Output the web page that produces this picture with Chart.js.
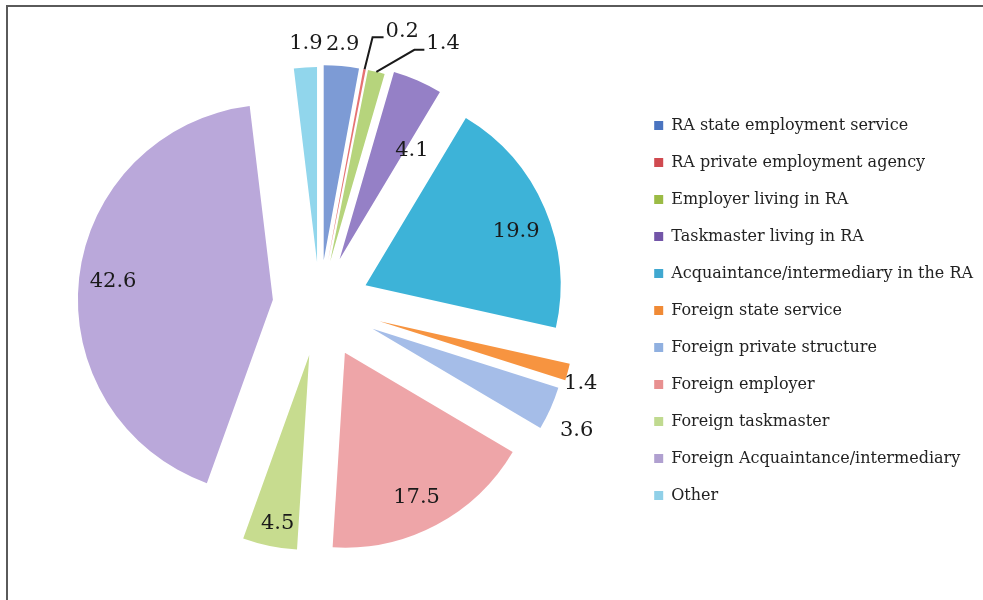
<!DOCTYPE html>
<html>
<head>
<meta charset="utf-8">
<script src="https://cdn.jsdelivr.net/npm/chart.js@4.4.0/dist/chart.umd.min.js"></script>
<style>
  html, body { margin: 0; padding: 0; background: #fff; }
  #wrap { position: relative; width: 983px; height: 600px; overflow: hidden; }
  #frame { position: absolute; left: 6px; top: 5px; right: -4px; bottom: -4px;
           border-left: 2px solid #5a5a5a; border-top: 2px solid #5a5a5a; }
  #chart { position: absolute; left: 0; top: 0; }
</style>
</head>
<body>
<div id="wrap">
  <div id="frame"></div>
  <canvas id="chart" width="983" height="600"></canvas>
</div>
<script>
// data
const labels = [
    'RA state employment service',
    'RA private employment agency',
    'Employer living in RA',
    'Taskmaster living in RA',
    'Acquaintance/intermediary in the RA',
    'Foreign state service',
    'Foreign private structure',
    'Foreign employer',
    'Foreign taskmaster',
    'Foreign Acquaintance/intermediary',
    'Other'
];
const shares = [2.9, 0.2, 1.4, 4.1, 19.9, 1.4, 3.6, 17.5, 4.5, 42.6, 1.9];

// styles
const sliceColors = ['#7d9bd5', '#e57373', '#b6d47c', '#9580c6', '#3db3d8', '#f79440',
                     '#a5bde8', '#eea5a8', '#c7dc8f', '#baa8da', '#91d6ec'];
const legendColors = ['#4a74c0', '#d04a50', '#9bbb45', '#7355a8', '#40a8d0', '#f08a35',
                      '#90b0e0', '#e89090', '#c0da90', '#b0a0d0', '#90d0e8'];
const explode = [45, 45, 45, 50, 50, 62, 58, 54, 51, 47, 43];   // px each slice is pulled out
const labelPlace = [
    { f: 1.11, da: -0.2 },
    { leader: [8, -32], len: 11 },
    { leader: [38, -22], len: 10 },
    { f: 0.67, da: 10 },
    { f: 0.82, da: 3.6 },
    { f: 1.08, da: 2 },
    { f: 1.17, da: 2.4 },
    { f: 0.83, da: 1.6 },
    { f: 0.88, da: -1.1 },
    { f: 0.825, da: 0 },
    { f: 1.12, da: 0.5 }
];

// pull slices out along their bisector
const explodePlugin = {
    id: 'explode',
    afterDatasetUpdate(chart, args) {
        args.meta.data.forEach((arc, i) => {
            const mid = (arc.startAngle + arc.endAngle) / 2;
            arc.x += Math.cos(mid) * explode[i];
            arc.y += Math.sin(mid) * explode[i];
        });
    }
};

// value labels, some with leader lines
const valueLabels = {
    id: 'valueLabels',
    afterDatasetsDraw(chart) {
        const ctx = chart.ctx;
        const meta = chart.getDatasetMeta(0);
        ctx.save();
        ctx.font = '21px "DejaVu Serif"';
        ctx.fillStyle = '#1a1a1a';
        ctx.strokeStyle = '#1a1a1a';
        ctx.lineWidth = 2;
        meta.data.forEach((arc, i) => {
            const p = labelPlace[i];
            const mid = (arc.startAngle + arc.endAngle) / 2;
            const text = shares[i].toFixed(1);
            if (p.leader) {
                const tx = arc.x + Math.cos(mid) * arc.outerRadius;
                const ty = arc.y + Math.sin(mid) * arc.outerRadius;
                const ex = tx + p.leader[0], ey = ty + p.leader[1];
                ctx.beginPath();
                ctx.moveTo(tx, ty);
                ctx.lineTo(ex, ey);
                ctx.lineTo(ex + p.len, ey);
                ctx.stroke();
                ctx.textAlign = 'left';
                ctx.textBaseline = 'middle';
                ctx.fillText(text, ex + p.len + 2, ey - 6);
            } else {
                const a = mid + p.da * Math.PI / 180;
                const r = arc.outerRadius * p.f;
                ctx.textAlign = 'center';
                ctx.textBaseline = 'middle';
                ctx.fillText(text, arc.x + Math.cos(a) * r, arc.y + Math.sin(a) * r);
            }
        });
        ctx.restore();
    }
};

new Chart(document.getElementById('chart'), {
    type: 'pie',
    data: {
        labels: labels,
        datasets: [{
            data: shares,
            backgroundColor: sliceColors,
            borderWidth: 0
        }]
    },
    options: {
        responsive: false,
        animation: false,
        events: [],
        radius: 195,
        layout: { padding: { left: 6, right: 0, top: 10, bottom: 0 } },
        plugins: {
            tooltip: { enabled: false },
            legend: {
                position: 'right',
                // empty title only nudges the list down a little
                title: { display: true, text: ' ', padding: 0, font: { size: 9 } },
                labels: {
                    boxWidth: 9,
                    boxHeight: 9,
                    padding: 21,
                    color: '#222',
                    font: { family: '"DejaVu Serif"', size: 16 },
                    generateLabels: () => labels.map((t, i) => ({
                        text: t, fillStyle: legendColors[i], strokeStyle: legendColors[i],
                        fontColor: '#222', lineWidth: 0, hidden: false, index: i
                    }))
                }
            }
        }
    },
    plugins: [explodePlugin, valueLabels]
});
</script>
</body>
</html>
